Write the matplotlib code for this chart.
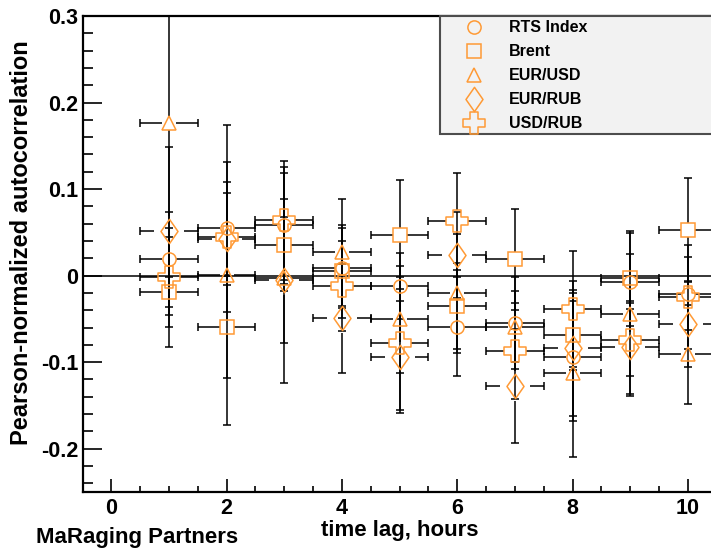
import numpy as np
import matplotlib
matplotlib.use('Agg')
import matplotlib.pyplot as plt
from matplotlib.path import Path
from matplotlib.lines import Line2D
from matplotlib.patches import Rectangle
from matplotlib.ticker import MultipleLocator, FuncFormatter

# time lag in hours, bin half-width
lags = np.arange(1, 11)
lag_err = np.full(10, 0.5)

series_names = ['RTS Index', 'Brent', 'EUR/USD', 'EUR/RUB', 'USD/RUB']

rts = [0.019, 0.0545, 0.058, 0.009, -0.012, -0.059, -0.055, -0.094, -0.007, -0.021]
rts_err = [0.055, 0.054, 0.068, 0.046, 0.038, 0.057, 0.053, 0.074, 0.032, 0.042]

brent = [-0.019, -0.059, 0.035, 0.005, 0.0475, -0.035, 0.0187, -0.069, -0.003, 0.0525]
brent_err = [0.064, 0.059, 0.053, 0.054, 0.063, 0.050, 0.058, 0.040, 0.055, 0.060]

eurusd = [0.176, 0.0006, -0.0025, 0.027, -0.0506, -0.0206, -0.059, -0.113, -0.0448, -0.091]
eurusd_err = [0.178, 0.173, 0.121, 0.062, 0.062, 0.069, 0.041, 0.096, 0.094, 0.057]

eurrub = [0.052, 0.0425, -0.005, -0.049, -0.094, 0.0237, -0.1276, -0.084, -0.083, -0.056]
eurrub_err = [0.097, 0.053, 0.073, 0.063, 0.065, 0.050, 0.066, 0.078, 0.054, 0.050]

usdrub = [-0.002, 0.0448, 0.064, -0.012, -0.078, 0.063, -0.087, -0.038, -0.074, -0.025]
usdrub_err = [0.057, 0.087, 0.069, 0.052, 0.077, 0.056, 0.055, 0.067, 0.042, 0.060]

W, H = 711, 552
ORANGE = '#ff9a35'
FONT = 'Liberation Sans'

# ROOT-like open markers: tall diamond and open cross
diamond = Path([(0, 1), (0.7, 0), (0, -1), (-0.7, 0), (0, 1)],
               [Path.MOVETO, Path.LINETO, Path.LINETO, Path.LINETO, Path.CLOSEPOLY])
a = 0.33
cross_verts = [(-a, 1), (a, 1), (a, a), (1, a), (1, -a), (a, -a), (a, -1),
               (-a, -1), (-a, -a), (-1, -a), (-1, a), (-a, a), (-a, 1)]
cross = Path(cross_verts, [Path.MOVETO] + [Path.LINETO] * 11 + [Path.CLOSEPOLY])

# marker, marker size (pt), gap around marker (px) for the error lines
styles = [('o', 9.5, 7), ('s', 10, 7), ('^', 9.5, 7), (diamond, 17.5, 15), (cross, 16.5, 11)]
values = [rts, brent, eurusd, eurrub, usdrub]
errors = [rts_err, brent_err, eurusd_err, eurrub_err, usdrub_err]


def fx(px):
    return px / W


def fy(py):
    return 1 - py / H


fig = plt.figure(figsize=(W / 100, H / 100), dpi=100)
ax = fig.add_axes([fx(82.5), fy(492), 634.3 / W, (492 - 16) / H])
ax.set_xlim(-0.5, 10.5)
ax.set_ylim(-0.25, 0.3)

for s in ax.spines.values():
    s.set_linewidth(1.6)
    s.set_color('black')

ax.xaxis.set_major_locator(MultipleLocator(2))
ax.xaxis.set_minor_locator(MultipleLocator(0.5))
ax.yaxis.set_major_locator(MultipleLocator(0.1))
ax.yaxis.set_minor_locator(MultipleLocator(0.02))
ax.tick_params(axis='x', which='major', direction='in', length=9.5, width=1.2, pad=4)
ax.tick_params(axis='x', which='minor', direction='in', length=4.5, width=1.2)
ax.tick_params(axis='y', which='major', direction='in', length=13.7, width=1.2, pad=3)
ax.tick_params(axis='y', which='minor', direction='in', length=7.2, width=1.2)
ax.yaxis.set_major_formatter(FuncFormatter(lambda v, p: '%g' % round(v, 3) if abs(v) > 1e-9 else '0'))
for lab in ax.get_xticklabels() + ax.get_yticklabels():
    lab.set_fontfamily(FONT)
    lab.set_fontweight('bold')
    lab.set_fontsize(15.5)

ax.axhline(0, color='black', lw=1.1, zorder=1)

# px per data unit, for the gaps around markers
(x0, y0), (x1, y1) = ax.transData.transform([(0, 0), (1, 1)])
px_x, px_y = x1 - x0, y1 - y0

for vals, errs, (mk, ms, gap) in zip(values, errors, styles):
    y = np.asarray(vals)
    e = np.asarray(errs)
    gx = gap / px_x
    gy = gap / px_y
    # horizontal bars with a gap at the marker
    ax.hlines(y, lags - lag_err, lags - gx, color='black', lw=1.1, zorder=2)
    ax.hlines(y, lags + gx, lags + lag_err, color='black', lw=1.1, zorder=2)
    ax.plot(np.r_[lags - lag_err, lags + lag_err], np.r_[y, y], ls='none',
            marker='|', ms=5.8, mew=1.1, color='black', zorder=2)
    # vertical bars
    long_ = e > gy
    ax.vlines(lags[long_], (y - e)[long_], (y - gy)[long_], color='black', lw=1.1, zorder=2)
    ax.vlines(lags[long_], (y + gy)[long_], (y + e)[long_], color='black', lw=1.1, zorder=2)
    ax.plot(np.r_[lags, lags], np.r_[y - e, y + e], ls='none',
            marker='_', ms=5.8, mew=1.1, color='black', zorder=2)
    ax.plot(lags, y, ls='none', marker=mk, ms=ms, mfc='none', mec=ORANGE, mew=1.1, zorder=3)

# legend box
fig.add_artist(Rectangle((fx(439.5), fy(134)), 280 / W, 118 / H, transform=fig.transFigure,
                         facecolor='#f2f2f2', edgecolor='#4d4d4d', lw=1.5, zorder=5))
for i, (name, (mk, ms, gap)) in enumerate(zip(series_names, styles)):
    row = 26.7 + 24 * i
    fig.add_artist(Line2D([fx(474)], [fy(row)], transform=fig.transFigure, ls='none',
                          marker=mk, ms=ms, mfc='none', mec=ORANGE, mew=1.1, zorder=6))
    fig.text(fx(509), fy(row + 5.8), name, fontfamily=FONT, fontweight='bold',
             fontsize=11.5, ha='left', va='baseline', zorder=6)

fig.text(fx(22), fy(243), 'Pearson-normalized autocorrelation', rotation=90,
         fontfamily=FONT, fontweight='bold', fontsize=17, ha='center', va='center')
fig.text(fx(400), fy(536), 'time lag, hours', fontfamily=FONT, fontweight='bold',
         fontsize=16, ha='center', va='baseline')
fig.text(fx(137), fy(543), 'MaRaging Partners', fontfamily=FONT, fontweight='bold',
         fontsize=16, ha='center', va='baseline')

fig.savefig('out.png', dpi=100)
